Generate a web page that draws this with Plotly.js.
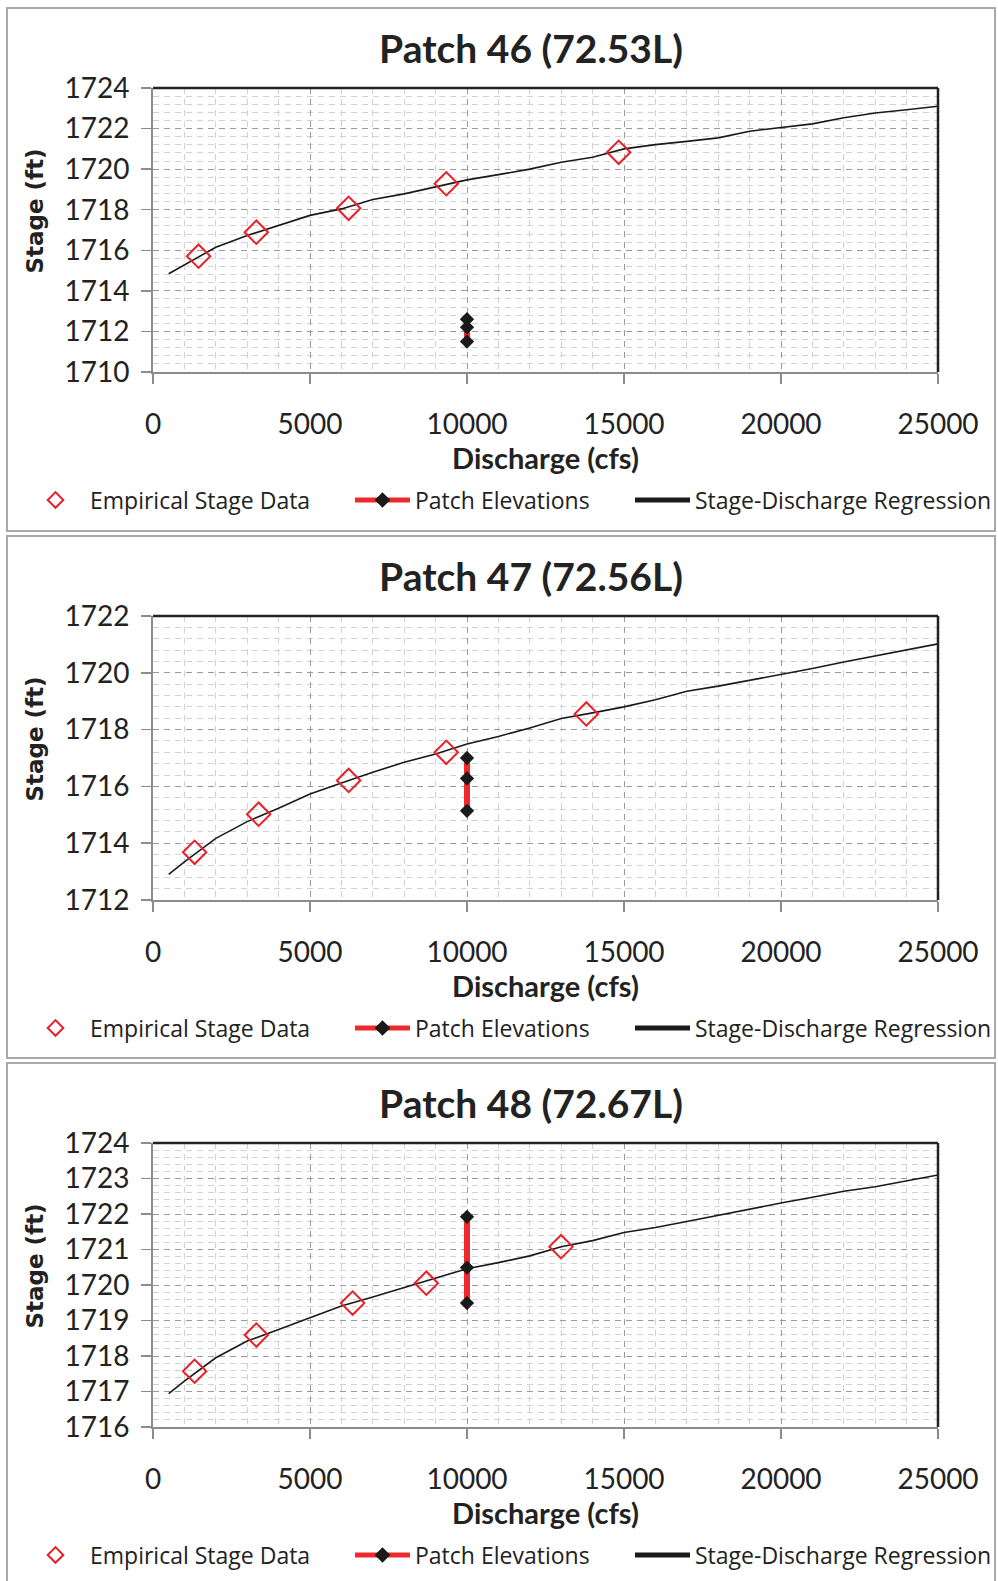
<!DOCTYPE html>
<html><head><meta charset="utf-8">
<script src="https://cdn.plot.ly/plotly-3.0.1.min.js"></script>
<style>
body{margin:0;background:#fff;width:998px;height:1581px;overflow:hidden;position:relative;}
.frame{position:absolute;left:6px;width:990px;border:2px solid #a9a9a9;box-sizing:border-box;}
.plot{position:absolute;left:0;width:998px;height:524px;}
</style></head><body>
<div class="frame" style="top:7px;height:525px"></div>
<div class="frame" style="top:535px;height:524px"></div>
<div class="frame" style="top:1062px;height:540px"></div>
<div id="p46" class="plot" style="top:8px"></div>
<div id="p47" class="plot" style="top:536px"></div>
<div id="p48" class="plot" style="top:1063px"></div>
<script>
// ---- data ----
const regressionQ = [500,1000,2000,3000,4000,5000,6000,7000,8000,9000,10000,11000,12000,13000,14000,15000,16000,17000,18000,19000,20000,21000,22000,23000,24000,25000];
const regression46 = [1714.84,1715.29,1716.15,1716.73,1717.22,1717.72,1718.04,1718.5,1718.78,1719.14,1719.47,1719.73,1720.0,1720.34,1720.59,1721.0,1721.21,1721.37,1721.54,1721.87,1722.06,1722.23,1722.53,1722.77,1722.93,1723.1];
const regression47 = [1712.9,1713.34,1714.17,1714.76,1715.23,1715.73,1716.12,1716.5,1716.85,1717.14,1717.49,1717.76,1718.06,1718.39,1718.59,1718.8,1719.05,1719.35,1719.53,1719.73,1719.94,1720.15,1720.38,1720.59,1720.81,1721.02];
const regression48 = [1716.94,1717.29,1717.95,1718.42,1718.75,1719.08,1719.41,1719.66,1719.93,1720.18,1720.46,1720.63,1720.82,1721.08,1721.25,1721.48,1721.62,1721.79,1721.97,1722.14,1722.31,1722.47,1722.64,1722.77,1722.94,1723.1];

const empiricalQ46 = [1450,3290,6230,9340,14830];
const empiricalStage46 = [1715.71,1716.89,1718.07,1719.28,1720.83];
const empiricalQ47 = [1325,3364,6230,9340,13800];
const empiricalStage47 = [1713.68,1715.02,1716.21,1717.2,1718.55];
const empiricalQ48 = [1325,3290,6357,8705,12995];
const empiricalStage48 = [1717.57,1718.59,1719.49,1720.05,1721.08];

const patchQ = [10000,10000,10000];
const patchStage46 = [1712.6,1712.2,1711.5];
const patchStage47 = [1717.0,1716.28,1715.14];
const patchStage48 = [1721.92,1720.49,1719.49];

const titles = ['Patch 46 (72.53L)','Patch 47 (72.56L)','Patch 48 (72.67L)'];
const yRanges = [[1710,1724],[1712,1722],[1716,1724]];
const yDticks = [2,2,1];
const xTitle = 'Discharge (cfs)';
const yTitle = 'Stage (ft)';
const seriesNames = ['Empirical Stage Data','Patch Elevations','Stage-Discharge Regression'];

// ---- drawing ----
const panels = [
  {id:'p46', emQ:empiricalQ46, emS:empiricalStage46, pS:patchStage46, reg:regression46},
  {id:'p47', emQ:empiricalQ47, emS:empiricalStage47, pS:patchStage47, reg:regression47},
  {id:'p48', emQ:empiricalQ48, emS:empiricalStage48, pS:patchStage48, reg:regression48}
];
const DARK = '#222222';
const RED = '#e8202a';
const gridDash = '6px,5px';

panels.forEach((p, i) => {
  const traces = [
    {x: regressionQ, y: p.reg, type:'scatter', mode:'lines', name: seriesNames[2],
     line:{color:'#1a1a1a', width:1.6}, legend:'legend3', hoverinfo:'skip'},
    {x: patchQ, y: p.pS, type:'scatter', mode:'lines+markers', name: seriesNames[1],
     line:{color:'#ee2a2f', width:6}, marker:{symbol:'diamond', size:11, color:'#1a1a1a'},
     legend:'legend2', hoverinfo:'skip'},
    {x: p.emQ, y: p.emS, type:'scatter', mode:'markers', name: seriesNames[0],
     marker:{symbol:'diamond-open', size:18, color:RED, line:{width:2, color:RED}},
     legend:'legend', hoverinfo:'skip'}
  ];
  const legBase = {orientation:'h', yref:'container', xref:'container', y:1-492/524, yanchor:'middle',
    xanchor:'left', bgcolor:'rgba(0,0,0,0)', borderwidth:0, itemsizing:'constant',
    font:{family:'Open Sans', size:23, color:DARK}};
  const layout = {
    width:998, height:524,
    margin:{l:153, r:60, t:80, b:160},
    paper_bgcolor:'rgba(0,0,0,0)', plot_bgcolor:'#ffffff',
    font:{family:'Lato', color:DARK},
    title:{text: titles[i], font:{family:'Lato', size:39, color:DARK, weight:'bold'},
      xref:'container', x:531/998, xanchor:'center', yref:'container', y:1-41/524, yanchor:'middle'},
    xaxis:{range:[0,25000], tick0:0, dtick:5000, tickformat:'d',
      showgrid:true, gridcolor:'#9a9a9a', griddash:gridDash, gridwidth:1,
      minor:{dtick:1000, showgrid:true, gridcolor:'#d2d2d2', griddash:gridDash, gridwidth:1},
      showline:true, linecolor:'#8c8c8c', linewidth:2, ticks:'outside', ticklen:10, tickcolor:'#8c8c8c', tickwidth:1.5,
      ticklabelstandoff:16, tickfont:{family:'Lato', size:28, color:DARK}, zeroline:false,
      title:{text:xTitle, font:{family:'Lato', size:29, color:DARK, weight:'bold'}, standoff:0}, fixedrange:true},
    yaxis:{range:yRanges[i], tick0:yRanges[i][0], dtick:yDticks[i], tickformat:'d',
      showgrid:true, gridcolor:'#9a9a9a', griddash:gridDash, gridwidth:1,
      minor:{dtick:yDticks[i]/5, showgrid:true, gridcolor:'#d2d2d2', griddash:gridDash, gridwidth:1},
      showline:true, linecolor:'#8c8c8c', linewidth:2, ticks:'outside', ticklen:10, tickcolor:'#8c8c8c', tickwidth:1.5,
      ticklabelstandoff:6, tickfont:{family:'Lato', size:28, color:DARK}, zeroline:false, fixedrange:true},
    shapes:[
      {type:'line', xref:'paper', yref:'paper', x0:0, x1:1, y0:1, y1:1, line:{color:DARK, width:2.5}},
      {type:'line', xref:'paper', yref:'paper', x0:1, x1:1, y0:0, y1:1, line:{color:DARK, width:2.5}}
    ],
    annotations:[
      {text:yTitle, xref:'paper', yref:'paper', x:(35-153)/785, y:0.565, xanchor:'center', yanchor:'middle',
       textangle:-90, showarrow:false, font:{family:'DejaVu Sans', size:23, color:DARK, weight:'bold'}}
    ],
    legend: Object.assign({}, legBase, {x:21/998, itemwidth:59}),
    legend2: Object.assign({}, legBase, {x:350/998, itemwidth:55}),
    legend3: Object.assign({}, legBase, {x:630/998, itemwidth:55}),
    showlegend:true
  };
  Plotly.newPlot(p.id, traces, layout, {displayModeBar:false, staticPlot:true});
});
</script>
</body></html>
